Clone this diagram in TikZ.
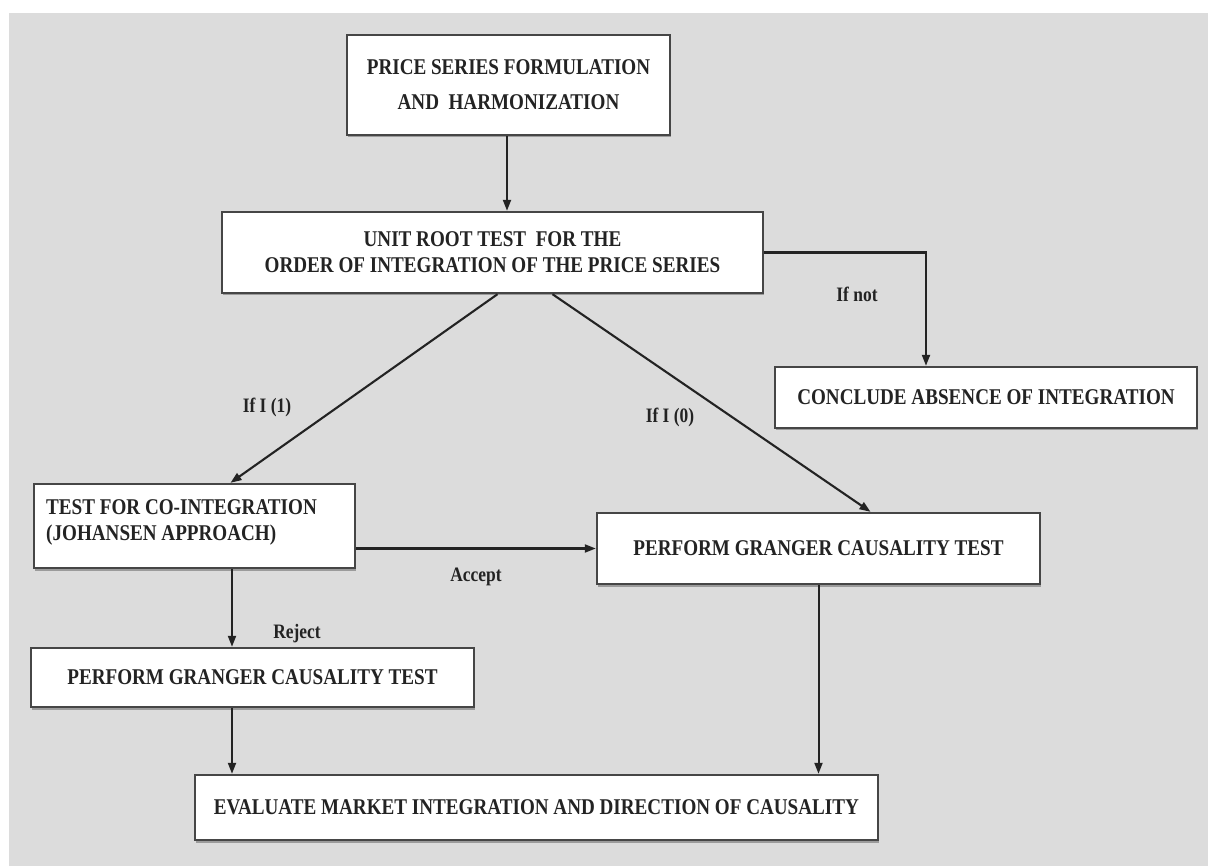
\documentclass[tikz,border=0pt]{standalone}
\usepackage{fontspec}
\setmainfont{Liberation Serif}[FakeStretch=0.85]
\usetikzlibrary{arrows.meta,shadows,calc}
\definecolor{bg}{RGB}{220,220,220}
\definecolor{edge}{RGB}{70,70,70}
\definecolor{ink}{RGB}{35,35,35}
\tikzset{
  box/.style={draw=edge, line width=2.4pt, fill=white, inner sep=0pt,
    text=ink, font=\bfseries\fontsize{22.5}{26}\selectfont,
    drop shadow={shadow xshift=0.5pt, shadow yshift=-2.5pt, opacity=0.45, fill=black!70}},
  arr/.style={draw=ink, line width=2.1pt, -{Triangle[length=11pt,width=8pt]}},
  lbl/.style={text=ink, font=\bfseries\fontsize{20.5}{22}\selectfont, inner sep=0pt}
}
\begin{document}
\begin{tikzpicture}[x=1pt,y=-1pt]
\useasboundingbox (0,0) rectangle (1208,866);
\fill[white] (0,0) rectangle (1208,866);
\fill[bg] (9,13) rectangle (1208,866);

\node[box, minimum width=323pt, minimum height=100pt, align=center] (B1) at (508.5,85)
  {PRICE SERIES FORMULATION\\[9pt]AND\ \ HARMONIZATION};
\node[box, minimum width=541pt, minimum height=81pt, align=center] (B2) at (492.5,252.5)
  {UNIT ROOT TEST\ \ FOR THE\\ORDER OF INTEGRATION OF THE PRICE SERIES};
\node[box, minimum width=422pt, minimum height=61pt] (B3) at (986,397.5)
  {CONCLUDE ABSENCE OF INTEGRATION};
\node[box, minimum width=321pt, minimum height=84pt] (B4) at (194.5,526) {};
\node[text=ink, font=\bfseries\fontsize{22.5}{26}\selectfont, align=left, anchor=north west, inner sep=0pt] (T4) at (46,499)
  {TEST FOR CO-INTEGRATION\\(JOHANSEN APPROACH)};
\node[box, minimum width=443pt, minimum height=71pt] (B5) at (818.5,548.5)
  {PERFORM GRANGER CAUSALITY TEST};
\node[box, minimum width=443pt, minimum height=59pt] (B6) at (252.5,677.5)
  {PERFORM GRANGER CAUSALITY TEST};
\node[box, minimum width=683pt, minimum height=65pt] (B7) at (536.5,807.5)
  {EVALUATE MARKET INTEGRATION AND DIRECTION OF CAUSALITY};

\coordinate (cx) at (232,0);

\draw[arr] ([xshift=-1.5pt]B1.south) -- ([xshift=-1.5pt]B1.south |- B2.north);
\draw[arr] (B2.east) -| ([xshift=-60pt]B3.north);
\draw[arr] ([xshift=5pt]B2.south) -- ([xshift=36pt]B4.north);
\draw[arr] ([xshift=60pt]B2.south) -- ([xshift=52pt]B5.north);
\draw[arr] (B4.east |- B5.west) -- (B5.west);
\draw[arr] (B4.south -| cx) -- (B6.north -| cx);
\draw[arr] (B6.south -| cx) -- (B7.north -| cx);
\draw[arr, line width=2pt] (B5.south) -- (B5.south |- B7.north);

\node[lbl] (L1) at (857,294) {If not};
\node[lbl] (L2) at (267,407) {If I (1)};
\node[lbl] (L3) at (670,417) {If I (0)};
\node[lbl] (L4) at (476,577) {Accept};
\node[lbl] (L5) at (297,634) {Reject};
\end{tikzpicture}
\end{document}
